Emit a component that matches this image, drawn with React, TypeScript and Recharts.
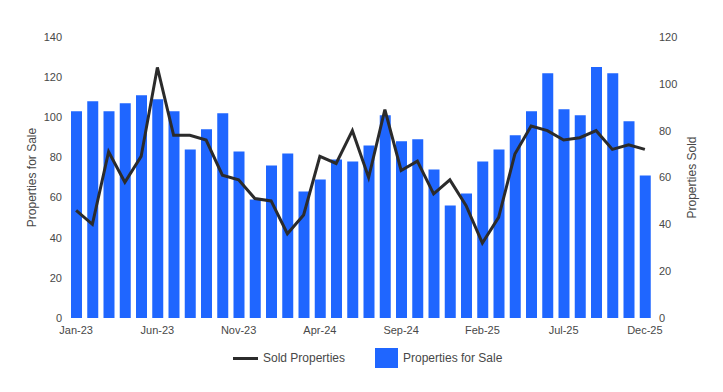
import { ComposedChart, Bar, Line, XAxis, YAxis, Legend } from "recharts";

const months = [
  "Jan-23", "Feb-23", "Mar-23", "Apr-23", "May-23", "Jun-23", "Jul-23", "Aug-23", "Sep-23", "Oct-23", "Nov-23", "Dec-23",
  "Jan-24", "Feb-24", "Mar-24", "Apr-24", "May-24", "Jun-24", "Jul-24", "Aug-24", "Sep-24", "Oct-24", "Nov-24", "Dec-24",
  "Jan-25", "Feb-25", "Mar-25", "Apr-25", "May-25", "Jun-25", "Jul-25", "Aug-25", "Sep-25", "Oct-25", "Nov-25", "Dec-25",
];

const forSale = [
  103, 108, 103, 107, 111, 109, 103, 84, 94, 102, 83, 59,
  76, 82, 63, 69, 79, 78, 86, 101, 88, 89, 74, 56,
  62, 78, 84, 91, 103, 122, 104, 101, 125, 122, 98, 71,
];

const sold = [
  46, 40, 71, 58, 69, 107, 78, 78, 76, 61, 59, 51,
  50, 36, 44, 69, 66, 80, 60, 89, 63, 67, 53, 59,
  48, 32, 43, 70, 82, 80, 76, 77, 80, 72, 74, 72,
];

const leftTicks = [0, 20, 40, 60, 80, 100, 120, 140];
const rightTicks = [0, 20, 40, 60, 80, 100, 120];

const data = months.map((m, i) => ({ month: m, forSale: forSale[i], sold: sold[i] }));

const BLUE = "#1f66ff";
const LINE = "#2b2b2b";
const TEXT = "#484848";
const FONT = "'Liberation Sans', Arial, sans-serif";

// legend drawn by hand so the line icon and the big square match the original
function ChartLegend() {
  return (
    <div style={{ position: "relative", height: 24, fontFamily: FONT, fontSize: 12, color: TEXT }}>
      <div style={{ position: "absolute", left: 233, top: 9, width: 25, height: 3, background: LINE }} />
      <span style={{ position: "absolute", left: 263, top: 3 }}>Sold Properties</span>
      <div style={{ position: "absolute", left: 375, top: 0, width: 23, height: 20, background: BLUE }} />
      <span style={{ position: "absolute", left: 403, top: 3 }}>Properties for Sale</span>
    </div>
  );
}

export default function App() {
  return (
    <div style={{ position: "fixed", left: 0, top: 0, width: 723, height: 392, background: "#fff", fontFamily: FONT }}>
      <ComposedChart width={723} height={392} data={data} margin={{ top: 37, right: 10, bottom: 20, left: 8 }}>
        <XAxis
          dataKey="month"
          interval={4}
          axisLine={false}
          tickLine={false}
          height={30}
          tick={{ fill: TEXT, fontSize: 11 }}
        />
        <YAxis
          yAxisId="left"
          domain={[0, 140]}
          ticks={leftTicks}
          width={60}
          axisLine={false}
          tickLine={false}
          tickMargin={0}
          tick={{ fill: TEXT, fontSize: 11 }}
          label={{ value: "Properties for Sale", angle: -90, position: "insideLeft", offset: 24, fill: TEXT, fontSize: 12, textAnchor: "middle" }}
        />
        <YAxis
          yAxisId="right"
          orientation="right"
          domain={[0, 120]}
          ticks={rightTicks}
          width={60}
          axisLine={false}
          tickLine={false}
          tickMargin={0}
          tick={{ fill: TEXT, fontSize: 11 }}
          label={{ value: "Properties Sold", angle: -90, position: "insideRight", offset: 21, fill: TEXT, fontSize: 12, textAnchor: "middle" }}
        />
        <Legend
          verticalAlign="bottom"
          height={24}
          content={() => <ChartLegend />}
          wrapperStyle={{ left: 0, width: 723 }}
        />
        <Bar yAxisId="left" dataKey="forSale" name="Properties for Sale" fill={BLUE} barSize={11} isAnimationActive={false} />
        <Line
          yAxisId="right"
          dataKey="sold"
          name="Sold Properties"
          stroke={LINE}
          strokeWidth={3}
          dot={false}
          type="linear"
          isAnimationActive={false}
        />
      </ComposedChart>
    </div>
  );
}
